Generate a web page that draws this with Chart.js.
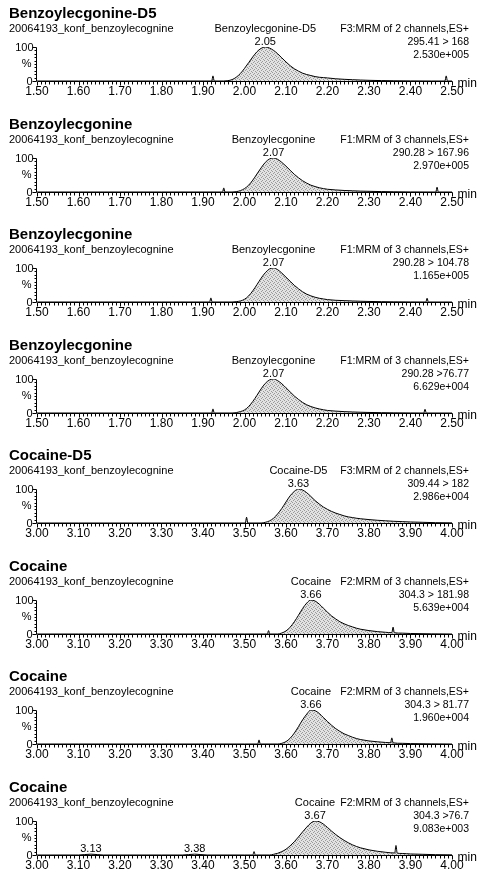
<!DOCTYPE html>
<html>
<head>
<meta charset="utf-8">
<script src="https://cdn.jsdelivr.net/npm/chart.js@4.4.1/dist/chart.umd.min.js"></script>
<style>
html,body{margin:0;padding:0;background:#fff;overflow:hidden;}
#wrap{position:relative;width:484px;height:877px;background:#fff;}
canvas{position:absolute;left:0;}
</style>
</head>
<body>
<div id="wrap"></div>
<script>
// ---------- DATA ----------
const subtitle = "20064193_konf_benzoylecognine";
const panelTitles = ["Benzoylecgonine-D5","Benzoylecgonine","Benzoylecgonine","Benzoylecgonine","Cocaine-D5","Cocaine","Cocaine","Cocaine"];
const peakNames = ["Benzoylecgonine-D5","Benzoylecgonine","Benzoylecgonine","Benzoylecgonine","Cocaine-D5","Cocaine","Cocaine","Cocaine"];
const peakTimes = [2.05,2.07,2.07,2.07,3.63,3.66,3.66,3.67];
const functionText = ["F3:MRM of 2 channels,ES+","F1:MRM of 3 channels,ES+","F1:MRM of 3 channels,ES+","F1:MRM of 3 channels,ES+","F3:MRM of 2 channels,ES+","F2:MRM of 3 channels,ES+","F2:MRM of 3 channels,ES+","F2:MRM of 3 channels,ES+"];
const transitions = ["295.41 > 168","290.28 > 167.96","290.28 > 104.78","290.28 >76.77","309.44 > 182","304.3 > 181.98","304.3 > 81.77","304.3 >76.7"];
const intensities = ["2.530e+005","2.970e+005","1.165e+005","6.629e+004","2.986e+004","5.639e+004","1.960e+004","9.083e+003"];
const axisMin = [1.50,1.50,1.50,1.50,3.00,3.00,3.00,3.00];
const axisMax = [2.50,2.50,2.50,2.50,4.00,4.00,4.00,4.00];
const minorPeakTimes = [[],[],[],[],[],[],[],[3.13,3.38]];

const t1 = [1.50,1.60,1.70,1.80,1.90,1.921,1.924,1.927,1.95,1.96,1.97,1.98,1.99,2.00,2.01,2.02,2.03,2.04,2.05,2.06,2.07,2.08,2.09,2.10,2.11,2.12,2.13,2.14,2.15,2.16,2.17,2.18,2.19,2.20,2.22,2.24,2.26,2.28,2.30,2.33,2.36,2.40,2.45,2.483,2.486,2.489,2.50];
const v1 = [0,0,0,0,0,0,15,0,0,1,4,11,22,37,54,71,86,96,100,97,90,80,68,56,45,36,29,23,19,16,13,11,10,9,6.5,5,3.8,2.8,2,1.2,0.6,0.3,0,0,15,0,0];

const t2 = [1.50,1.60,1.70,1.80,1.90,1.947,1.950,1.953,1.97,1.98,1.99,2.00,2.01,2.02,2.03,2.04,2.05,2.06,2.07,2.08,2.09,2.10,2.11,2.12,2.13,2.14,2.15,2.16,2.17,2.18,2.19,2.20,2.22,2.24,2.26,2.28,2.30,2.33,2.36,2.40,2.461,2.464,2.467,2.50];
const v2 = [0,0,0,0,0,0,12,0,0,1,4,10,20,35,53,71,87,97,100,96,87,76,64,52,42,33,26,20,16,12.5,10,8,6,4.5,3.5,2.5,2,1.2,0.6,0.2,0,14,0,0];

const t3 = [1.50,1.60,1.70,1.80,1.90,1.916,1.919,1.922,1.97,1.98,1.99,2.00,2.01,2.02,2.03,2.04,2.05,2.06,2.07,2.08,2.09,2.10,2.11,2.12,2.13,2.14,2.15,2.16,2.17,2.18,2.19,2.20,2.22,2.24,2.26,2.28,2.30,2.33,2.36,2.40,2.437,2.440,2.443,2.50];
const v3 = [0,0,0,0,0,0,12,0,0,1,3,8,18,33,51,70,86,97,100,95,85,73,61,49,39,30,23,18,14,11,9,7,5,4,3,2.2,1.6,1,0.5,0.2,0,11,0,0];

const t4 = [1.50,1.60,1.70,1.80,1.90,1.921,1.924,1.927,1.97,1.98,1.99,2.00,2.01,2.02,2.03,2.04,2.05,2.06,2.07,2.08,2.09,2.10,2.11,2.12,2.13,2.14,2.15,2.16,2.17,2.18,2.19,2.20,2.22,2.24,2.26,2.28,2.30,2.33,2.36,2.40,2.432,2.435,2.438,2.50];
const v4 = [0,0,0,0,0,0,12,0,0,1,4,9,19,34,52,71,87,97,100,95,86,74,62,50,40,31,24,19,15,12,9.5,7.5,5.5,4,3,2.2,1.6,1,0.5,0.2,0,11,0,0];

const t5 = [3.00,3.10,3.20,3.30,3.40,3.502,3.505,3.508,3.54,3.55,3.56,3.57,3.58,3.59,3.60,3.61,3.62,3.63,3.64,3.65,3.66,3.67,3.68,3.69,3.70,3.71,3.72,3.73,3.74,3.75,3.76,3.77,3.78,3.80,3.82,3.84,3.86,3.88,3.90,3.93,3.96,4.00];
const v5 = [0,0,0,0,0,0,17,0,0,2,6,14,27,43,62,80,93,100,97,89,78,66,56,47,40,34,29,25,21,18,16,14,12.5,10,8,6.5,5,4,3,2,1,0.5];

const t6 = [3.00,3.10,3.20,3.30,3.40,3.50,3.555,3.558,3.561,3.58,3.59,3.60,3.61,3.62,3.63,3.64,3.65,3.66,3.67,3.68,3.69,3.70,3.71,3.72,3.73,3.74,3.75,3.76,3.77,3.78,3.80,3.82,3.84,3.855,3.858,3.861,3.88,3.90,3.95,4.00];
const v6 = [0,0,0,0,0,0,0,10,0,0,3,9,20,36,55,75,91,100,97,88,76,64,53,44,36,30,25,21,17,14,10,7,5,3.8,20,3.6,2.5,1.5,0.5,0];

const t7 = [3.00,3.10,3.20,3.30,3.40,3.50,3.532,3.535,3.538,3.58,3.59,3.60,3.61,3.62,3.63,3.64,3.65,3.66,3.67,3.68,3.69,3.70,3.71,3.72,3.73,3.74,3.75,3.76,3.77,3.78,3.80,3.82,3.84,3.852,3.855,3.858,3.88,3.90,3.95,4.00];
const v7 = [0,0,0,0,0,0,0,12,0,0,2,7,17,32,51,71,88,100,98,90,78,66,55,45,37,30,25,20,16,13,9,6.5,4.5,3.6,18,3.4,2,1.2,0.4,0];

const t8 = [3.00,3.10,3.13,3.16,3.30,3.35,3.38,3.41,3.50,3.520,3.523,3.526,3.56,3.57,3.58,3.59,3.60,3.61,3.62,3.63,3.64,3.65,3.66,3.67,3.68,3.69,3.70,3.71,3.72,3.73,3.74,3.75,3.76,3.77,3.78,3.80,3.82,3.84,3.862,3.865,3.868,3.88,3.90,3.93,3.96,4.00];
const v8 = [0,0,2.5,0,0,0,2.5,0,0,0,10,0,0,2,5,10,17,27,39,53,68,82,94,100,98,91,81,70,60,51,43,36,30,25,21,15,11,8,5.8,28,5.4,4.5,3,2,1,0.5];

const panelTimes = [t1,t2,t3,t4,t5,t6,t7,t8];
const panelValues = [v1,v2,v3,v4,v5,v6,v7,v8];

// ---------- DRAWING ----------
const FONT = '"Liberation Sans", Arial, Helvetica, sans-serif';
const PANEL_STEP = 110.5;
const CANVAS_H = 104;

function stipple(ctx){
  const c = document.createElement('canvas');
  c.width = 4; c.height = 4;
  const g = c.getContext('2d');
  g.fillStyle = '#e2e2e2'; g.fillRect(0,0,4,4);
  g.fillStyle = '#9a9a9a';
  g.fillRect(0,0,1,1); g.fillRect(2,1,1,1); g.fillRect(1,2,1,1); g.fillRect(3,3,1,1);
  return ctx.createPattern(c,'repeat');
}

const decoPlugin = {
  id: 'deco',
  afterDatasetsDraw(chart){
    const o = chart.options.plugins.deco;
    const i = o.index;
    const ctx = chart.ctx;
    const a = chart.chartArea;
    const x = chart.scales.x, y = chart.scales.y;
    ctx.save();
    ctx.strokeStyle = '#000';
    ctx.fillStyle = '#000';
    ctx.lineWidth = 1;
    const yb = Math.round(y.getPixelForValue(0)) + 0.5;
    const yt = Math.round(y.getPixelForValue(100)) + 0.5;
    const xl = Math.round(x.getPixelForValue(axisMin[i])) + 0.5;
    const xr = Math.round(x.getPixelForValue(axisMax[i])) + 0.5;
    // x axis
    ctx.beginPath(); ctx.moveTo(xl, yb); ctx.lineTo(xr, yb); ctx.stroke();
    ctx.beginPath();
    for (let k = 0; k <= 100; k++){
      const t = axisMin[i] + k*0.01;
      const px = Math.round(x.getPixelForValue(t)) + 0.5;
      const len = (k % 10 === 0) ? 4 : 3;
      ctx.moveTo(px, yb); ctx.lineTo(px, yb + len);
    }
    ctx.stroke();
    ctx.font = '12px ' + FONT;
    ctx.textAlign = 'center'; ctx.textBaseline = 'middle';
    for (let k = 0; k <= 10; k++){
      const t = axisMin[i] + k*0.1;
      ctx.fillText(t.toFixed(2), x.getPixelForValue(t), yb + 10);
    }
    ctx.textAlign = 'left';
    ctx.fillText('min', xr + 5, yb + 2);
    // y axis
    ctx.beginPath(); ctx.moveTo(xl - 1, yt); ctx.lineTo(xl - 1, yb); ctx.stroke();
    ctx.beginPath();
    for (let k = 0; k <= 10; k++){
      const py = Math.round(y.getPixelForValue(k*10)) + 0.5;
      const len = (k === 0 || k === 10) ? 4 : 2;
      ctx.moveTo(xl - 1, py); ctx.lineTo(xl - 1 - len, py);
    }
    ctx.stroke();
    ctx.font = '11px ' + FONT;
    ctx.textAlign = 'right';
    ctx.fillText('100', xl - 4, yt);
    ctx.fillText('0', xl - 5, yb);
    ctx.fillText('%', xl - 6, y.getPixelForValue(50));
    // titles
    ctx.textAlign = 'left';
    ctx.font = 'bold 15px ' + FONT;
    ctx.fillText(panelTitles[i], 9, 14);
    ctx.font = '11px ' + FONT;
    ctx.fillText(subtitle, 9, 29);
    // peak labels
    ctx.textAlign = 'center';
    const pk = x.getPixelForValue(peakTimes[i]);
    ctx.fillText(peakNames[i], pk, 29);
    ctx.fillText(peakTimes[i].toFixed(2), pk, 42);
    minorPeakTimes[i].forEach(t => {
      ctx.fillText(t.toFixed(2), x.getPixelForValue(t), yb - 7);
    });
    // right info
    ctx.textAlign = 'right';
    ctx.font = '10.5px ' + FONT;
    ctx.fillText(functionText[i], 469, 29);
    ctx.fillText(transitions[i], 469, 42);
    ctx.fillText(intensities[i], 469, 55);
    ctx.restore();
  }
};

const wrap = document.getElementById('wrap');
for (let i = 0; i < 8; i++){
  const cv = document.createElement('canvas');
  cv.width = 484; cv.height = CANVAS_H;
  cv.style.top = Math.round(i*PANEL_STEP) + 'px';
  cv.style.width = '484px'; cv.style.height = CANVAS_H + 'px';
  wrap.appendChild(cv);
  const ctx = cv.getContext('2d');
  const pts = panelTimes[i].map((t, k) => ({x: t, y: panelValues[i][k]}));
  new Chart(ctx, {
    type: 'line',
    data: { datasets: [{
      data: pts,
      borderColor: '#000',
      borderWidth: 1,
      pointRadius: 0,
      fill: 'origin',
      backgroundColor: stipple(ctx),
      cubicInterpolationMode: 'monotone'
    }]},
    options: {
      responsive: false,
      animation: false,
      devicePixelRatio: 1,
      layout: { padding: { left: 37, right: 32, top: 47, bottom: CANVAS_H - 81 } },
      scales: {
        x: { type: 'linear', min: axisMin[i], max: axisMax[i], display: false },
        y: { min: 0, max: 100, display: false }
      },
      plugins: { legend: {display: false}, tooltip: {enabled: false}, deco: { index: i } }
    },
    plugins: [decoPlugin]
  });
}
</script>
</body>
</html>
